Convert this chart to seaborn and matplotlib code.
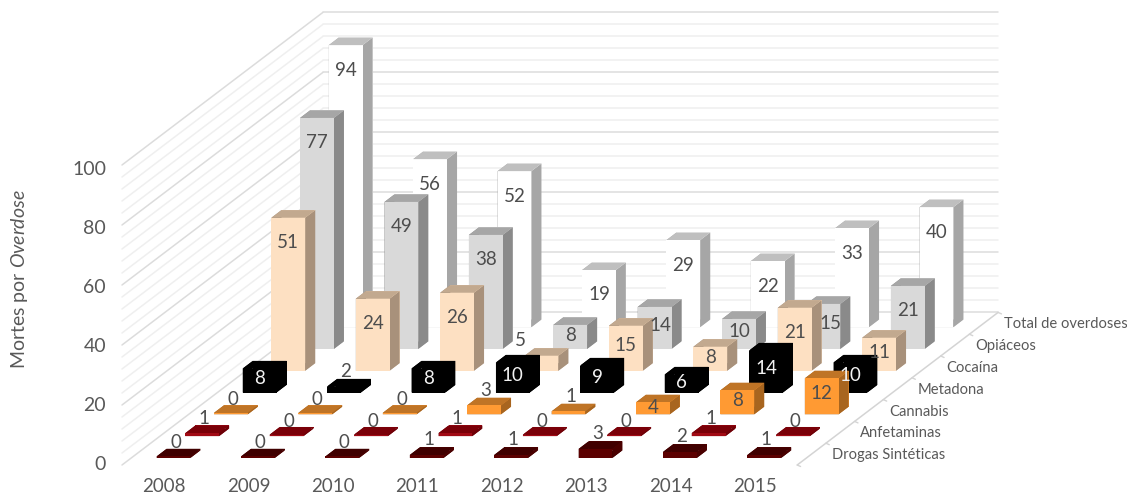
import numpy as np
import matplotlib
matplotlib.use("Agg")
import matplotlib.pyplot as plt
from mpl_toolkits.mplot3d import proj3d
import seaborn as sns

years = ["2008", "2009", "2010", "2011", "2012", "2013", "2014", "2015"]
series = ["Drogas Sintéticas", "Anfetaminas", "Cannabis", "Metadona", "Cocaína", "Opiáceos", "Total de overdoses"]
drogas = [0, 0, 0, 1, 1, 3, 2, 1]
anfetaminas = [1, 0, 0, 1, 0, 0, 1, 0]
cannabis = [0, 0, 0, 3, 1, 4, 8, 12]
metadona = [8, 2, 8, 10, 9, 6, 14, 10]
cocaina = [51, 24, 26, 5, 15, 8, 21, 11]
opiaceos = [77, 49, 38, 8, 14, 10, 15, 21]
total = [94, 56, 52, 19, 29, 22, 33, 40]
rows = [drogas, anfetaminas, cannabis, metadona, cocaina, opiaceos, total]
z_ticks = [0, 20, 40, 60, 80, 100]

# front, top, side colours per series
front = ["#5c0000", "#a10a14", "#ff9a33", "#000000", "#fde0c2", "#d9d9d9", "#ffffff"]
top = ["#400000", "#7a0008", "#bf7426", "#000000", "#c2a98f", "#a6a6a6", "#bfbfbf"]
side = ["#4a0000", "#6d0007", "#a8651f", "#000000", "#a8917b", "#8a8a8a", "#a6a6a6"]

sns.set_theme(style="white")
plt.rcParams["font.family"] = ["Lato", "DejaVu Sans"]
plt.rcParams["mathtext.fontset"] = "custom"
plt.rcParams["mathtext.it"] = "Lato:italic"
plt.rcParams["mathtext.rm"] = "Lato"

W, H = 1127, 498
fig = plt.figure(figsize=(W / 100, H / 100), dpi=100, facecolor="white")
# square 3D axes that cover the whole wide figure
ax = fig.add_axes([0, (H - W) / 2 / H, 1, W / H], projection="3d", computed_zorder=False)
ax.set_axis_off()
ax.set_proj_type("ortho")
ax.set_xlim(0, 8)
ax.set_ylim(0, 7)
ax.set_zlim(0, 100)
ax.apply_aspect()

# oblique projection as in the original: width is horizontal, depth runs up and right
inv = ax.transData.inverted()
(x0, y0), (x1, y1) = inv.transform([(0, 0), (1, 1)])
sx, sy = x1 - x0, y1 - y0
PX_X, PX_DX, PX_DY = 122.0, 84.4, 28.7
PX_Y, PY_DY, PY_DZ = H - 465.0, 21.8, 3.0
M = np.array([
    [sx * PX_DX, sx * PX_DY, 0, x0 + sx * PX_X],
    [0, sy * PY_DY, sy * PY_DZ, y0 + sy * PX_Y],
    [-0.01, 0.1, -0.001, -2.0],
    [0, 0, 0, 1.0],
])
ax.get_proj = lambda: M


def put(x, y, z, s, **kw):
    """Text at a data position, projected by the axes' own matrix."""
    px, py, _ = proj3d.proj_transform(x, y, z, M)
    return ax.text2D(px, py, s, transform=ax.transData, zorder=100, **kw)


GRID_MINOR, GRID_MAJOR = "#efefef", "#dcdcdc"
for z in range(0, 101, 4):
    major = z % 20 == 0
    c = GRID_MAJOR if major else GRID_MINOR
    zo = 2 if major else 1
    ax.plot([0, 0], [0, 7], [z, z], color=c, lw=1.1, zorder=zo)
    ax.plot([0, 8], [7, 7], [z, z], color=c, lw=1.1, zorder=zo)
ax.plot([8, 8], [0, 7], [0, 0], color="#d4d4d4", lw=1.1, zorder=2)
for r in range(8):
    ax.plot([8, 8.04], [r, r], [0, -0.5], color="#d4d4d4", lw=1.0, zorder=2)

BAR_W, BAR_D, BAR_X, BAR_Y = 0.40, 0.35, 0.30, 0.325
THIN = 0.5
label_nudge = {(4, 3): -23, (5, 4): 6, (5, 6): 7}
for r, vals in enumerate(rows):
    for i, v in enumerate(vals):
        # face order: bottom, top, front, back, left, right
        cols = [top[r], top[r], front[r], front[r], side[r], side[r]]
        col = ax.bar3d(i + BAR_X, r + BAR_Y, 0, BAR_W, BAR_D, max(v, THIN),
                       color=cols, shade=False, linewidth=0)
        col.set_zorder(10 + (len(rows) - r) * 2)
        if v <= 3 or (r, i) == (4, 3):
            off, dx = 5.0, 2
        else:
            off, dx = -min(v * 1.3, 25) / 3, 0
        dx += label_nudge.get((r, i), 0)
        put(i + 0.5 + dx / PX_DX, r + BAR_Y, v + off, str(v), ha="center", va="center",
            fontsize=13.5, color="#f2f2f2" if r == 3 and v > 3 else "#4d4d4d")

for i, y in enumerate(years):
    put(i + 0.5, 0, -7.3, y, ha="center", va="center", fontsize=13.5, color="#595959")
for r, s in enumerate(series):
    put(8 + 20 / PX_DX, r + 0.5, -0.4, s, ha="left", va="center", fontsize=10.6, color="#595959")
for z in z_ticks:
    put(-16 / PX_DX, 0, z * 0.983 + 0.2, str(z), ha="right", va="center", fontsize=14, color="#595959")

fig.text(20 / W, 1 - 279 / H, "Mortes por $\\mathit{Overdose}$", rotation=90, ha="center", va="center",
         fontsize=14, color="#595959")

fig.savefig("out.png", dpi=100, facecolor="white")
